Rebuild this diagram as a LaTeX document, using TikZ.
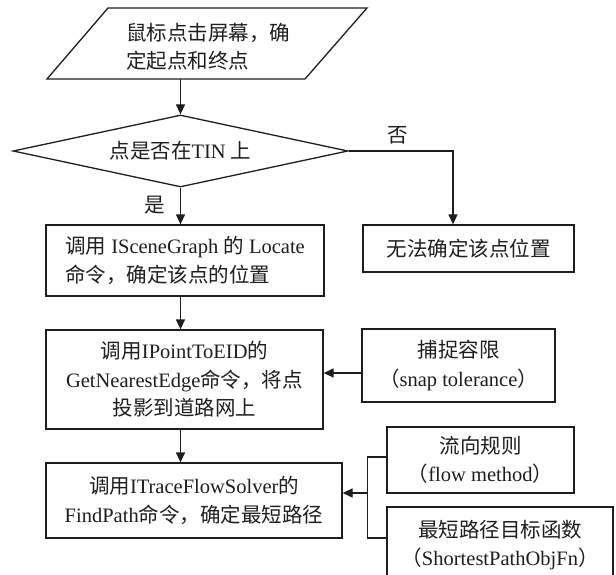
\documentclass[tikz,border=0pt]{standalone}
\usepackage{fontspec}
\setmainfont{Liberation Serif}
\newfontfamily\cjk{Noto Sans CJK SC}
\newcommand\C[1]{{\cjk #1}}
\newcommand\fsz{\fontsize{20.5}{28.5}\selectfont}
\usetikzlibrary{arrows.meta,shapes.geometric}
\definecolor{ink}{HTML}{1E1E1E}
\begin{document}
\begin{tikzpicture}[x=1pt,y=-1pt,
  line width=1.3pt, draw=ink, text=ink,
  box/.style={draw=ink,rectangle,inner sep=0pt,align=center,font=\fsz},
  arr/.style={-{Triangle[length=10pt,width=9pt]}},
  lbl/.style={font=\fsz,inner sep=0pt}]
\useasboundingbox (0,0) rectangle (616,575);
\clip (0,0) rectangle (616,575);
\fill[white] (0,0) rectangle (616,575);

% input parallelogram
\draw (108,8) -- (367,8) -- (305,79) -- (47,79) -- cycle;
\node[lbl,align=left] (para) at (208,47) {\C{鼠标点击屏幕，确}\\\C{定起点和终点}};
\coordinate (paraB) at (180.5,79);

% decision
\node[diamond,draw=ink,minimum width=335pt,minimum height=72pt,aspect=4.65,inner sep=0pt,font=\fsz]
  (dia) at (180.5,151) {\C{点是否在}TIN \C{上}};

% boxes
\node[box,align=left,minimum width=278pt,minimum height=71pt] (box1) at (185,260.5)
  {\C{调用} ISceneGraph \C{的} Locate\\\C{命令，确定该点的位置}};
\node[box,minimum width=211pt,minimum height=47pt] (nobox) at (468.5,248.5) {\C{无法确定该点位置}};
\node[box,minimum width=277pt,minimum height=99pt] (box2) at (184.5,379.5)
  {\C{调用}IPointToEID\C{的}\\GetNearestEdge\C{命令，将点}\\\C{投影到道路网上}};
\node[box,minimum width=193pt,minimum height=73pt] (snap) at (458.5,365.5)
  {\C{捕捉容限}\\\C{（}snap tolerance\C{）}};
\node[box,minimum width=296pt,minimum height=75pt] (box3) at (194,500.5)
  {\C{调用}ITraceFlowSolver\C{的}\\FindPath\C{命令，确定最短路径}};
\node[box,minimum width=187pt,minimum height=66pt] (flow) at (480.5,460)
  {\C{流向规则}\\\C{（}flow method\C{）}};
\node[box,minimum width=226pt,minimum height=76pt] (short) at (500,545)
  {\C{最短路径目标函数}\\\C{（}ShortestPathObjFn\C{）}};

% connectors
\draw[arr] (paraB) -- (dia.north);
\draw[arr] (dia.south) -- (box1.north -| dia.south);
\node[lbl] (yes) at (155,205) {\C{是}};
\draw[arr] (dia.east) -| ([xshift=-15.5pt]nobox.north);
\node[lbl] (no) at (398,135) {\C{否}};
\draw[arr] (box1.south -| dia.south) -- (box2.north -| dia.south);
\coordinate (sa) at ([yshift=-7.5pt]snap.west);
\draw[arr] (sa) -- (sa -| box2.east);
\draw[arr] (box2.south -| dia.south) -- (box3.north -| dia.south);
\coordinate (brk) at ([xshift=-19pt,yshift=3pt]flow.west);
\draw ([yshift=3pt]flow.west) -- (brk) -- (brk |- 0,538) -- ([yshift=7pt]short.west);
\draw[arr] ([yshift=7.5pt]box3.east -| brk) -- ([yshift=7.5pt]box3.east);
\end{tikzpicture}
\end{document}
